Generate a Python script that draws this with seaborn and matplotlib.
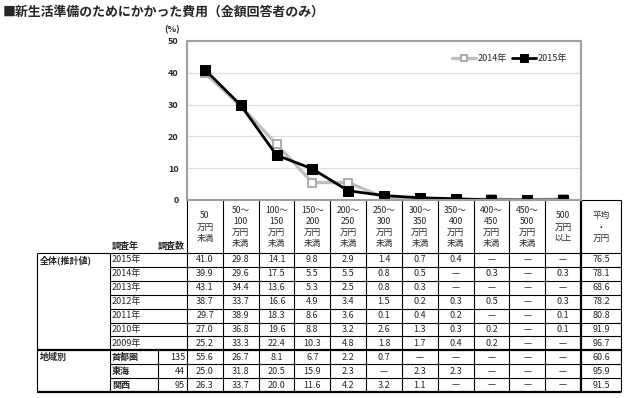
import matplotlib
matplotlib.use("Agg")
import matplotlib.pyplot as plt
import numpy as np
import pandas as pd
import seaborn as sns

# ---------------- data ----------------
title = "■新生活準備のためにかかった費用（金額回答者のみ）"
categories = ["50\n万円\n未満", "50～\n100\n万円\n未満", "100～\n150\n万円\n未満",
              "150～\n200\n万円\n未満", "200～\n250\n万円\n未満", "250～\n300\n万円\n未満",
              "300～\n350\n万円\n未満", "350～\n400\n万円\n未満", "400～\n450\n万円\n未満",
              "450～\n500\n万円\n未満", "500\n万円\n以上"]
avg_label = "平均\n・\n万円"
series_2015 = [41.0, 29.8, 14.1, 9.8, 2.9, 1.4, 0.7, 0.4, 0.0, 0.0, 0.0]
series_2014 = [39.9, 29.6, 17.5, 5.5, 5.5, 0.8, 0.5, 0.0, 0.3, 0.0, 0.3]
y_ticks = [0, 10, 20, 30, 40, 50]

years = ["2015年", "2014年", "2013年", "2012年", "2011年", "2010年", "2009年"]
row_2015 = ["41.0", "29.8", "14.1", "9.8", "2.9", "1.4", "0.7", "0.4", "—", "—", "—", "76.5"]
row_2014 = ["39.9", "29.6", "17.5", "5.5", "5.5", "0.8", "0.5", "—", "0.3", "—", "0.3", "78.1"]
row_2013 = ["43.1", "34.4", "13.6", "5.3", "2.5", "0.8", "0.3", "—", "—", "—", "—", "68.6"]
row_2012 = ["38.7", "33.7", "16.6", "4.9", "3.4", "1.5", "0.2", "0.3", "0.5", "—", "0.3", "78.2"]
row_2011 = ["29.7", "38.9", "18.3", "8.6", "3.6", "0.1", "0.4", "0.2", "—", "—", "0.1", "80.8"]
row_2010 = ["27.0", "36.8", "19.6", "8.8", "3.2", "2.6", "1.3", "0.3", "0.2", "—", "0.1", "91.9"]
row_2009 = ["25.2", "33.3", "22.4", "10.3", "4.8", "1.8", "1.7", "0.4", "0.2", "—", "—", "96.7"]
year_rows = [row_2015, row_2014, row_2013, row_2012, row_2011, row_2010, row_2009]

regions = ["首都圏", "東海", "関西"]
region_n = ["135", "44", "95"]
row_shutoken = ["55.6", "26.7", "8.1", "6.7", "2.2", "0.7", "—", "—", "—", "—", "—", "60.6"]
row_tokai = ["25.0", "31.8", "20.5", "15.9", "2.3", "—", "2.3", "2.3", "—", "—", "—", "95.9"]
row_kansai = ["26.3", "33.7", "20.0", "11.6", "4.2", "3.2", "1.1", "—", "—", "—", "—", "91.5"]
region_rows = [row_shutoken, row_tokai, row_kansai]

# ---------------- style ----------------
sns.set_theme(style="white")
plt.rcParams["font.family"] = ["Noto Sans CJK JP", "DejaVu Sans"]

W, H = 626, 398
fig = plt.figure(figsize=(W / 100, H / 100), dpi=100)

# layout in pixels
ax_l, ax_r, ax_t, ax_b = 187, 581, 41, 200
ncat = len(categories)
colw = (ax_r - ax_l) / ncat
tab_r = 621
col_edges = [ax_l + i * colw for i in range(ncat + 1)] + [tab_r]
col_centers = [(col_edges[i] + col_edges[i + 1]) / 2 for i in range(ncat + 1)]
row_top = 253
row_h = 13.9
nrows = len(years) + len(regions)
row_edges = [row_top + i * row_h for i in range(nrows + 1)]

# ---------------- chart ----------------
ax = fig.add_axes([ax_l / W, 1 - ax_b / H, (ax_r - ax_l) / W, (ax_b - ax_t) / H], zorder=2)
df = pd.DataFrame({"pos": np.arange(ncat), "y2014": series_2014, "y2015": series_2015})
sns.lineplot(data=df, x="pos", y="y2014", ax=ax, color="#BFBFBF", linewidth=2.4,
             marker="s", markersize=6, markerfacecolor="white", markeredgecolor="#A6A6A6",
             markeredgewidth=1.3, label="2014年")
sns.lineplot(data=df, x="pos", y="y2015", ax=ax, color="black", linewidth=2.0,
             marker="s", markersize=7, markerfacecolor="black", markeredgecolor="black",
             label="2015年")
ax.set_xlim(-0.5, ncat - 0.5)
ax.set_ylim(0, 50)
ax.set_yticks(y_ticks)
ax.set_xticks([])
ax.set_xlabel("")
ax.set_ylabel("")
ax.tick_params(axis="y", labelsize=6.5, length=0, pad=6)
for lab in ax.get_yticklabels():
    lab.set_fontweight("bold")
ax.yaxis.grid(True, color="#E0E0E0", linewidth=0.9)
ax.set_axisbelow(True)
for s in ax.spines.values():
    s.set_color("#A0A0A0")
    s.set_linewidth(1.5)
leg = ax.legend(loc="upper right", bbox_to_anchor=(0.985, 0.97), ncol=2, frameon=False,
                fontsize=6.5, handlelength=2.6, columnspacing=0.6, handletextpad=0.2,
                markerscale=0.8)
fig.text(172 / W, 1 - 30 / H, "(%)", fontsize=6.5, fontweight="bold", ha="center", va="center")
fig.text(3 / W, 1 - 12 / H, title, fontsize=9.3, fontweight="bold", ha="left", va="center")

# ---------------- table ----------------
tb = fig.add_axes([0, 0, 1, 1], zorder=1)
tb.set_xlim(0, W)
tb.set_ylim(H, 0)
tb.axis("off")
lc = "black"

def hline(y, x0, x1, lw=0.8):
    tb.plot([x0, x1], [y, y], color=lc, lw=lw, solid_capstyle="butt")

def vline(x, y0, y1, lw=0.8):
    tb.plot([x, x], [y0, y1], color=lc, lw=lw, solid_capstyle="butt")

bottom = row_edges[-1]
region_top = row_edges[len(years)]
# vertical lines
for i, x in enumerate(col_edges):
    vline(x, ax_b, bottom, lw=1.6 if i == ncat else 0.8)
vline(37, row_top, bottom)
vline(110, row_top, bottom)
vline(158, region_top, bottom)
# horizontal lines
hline(ax_b, ax_r, tab_r)
hline(row_top, 37, tab_r)
for i in range(1, nrows):
    if i == len(years):
        hline(row_edges[i], 37, tab_r, lw=1.6)
    else:
        hline(row_edges[i], 110, tab_r)
hline(bottom, 37, tab_r, lw=1.6)

fs = 6.5
# header texts
header_labels = categories + [avg_label]
for cx, lab in zip(col_centers, header_labels):
    tb.text(cx, 227, lab, ha="center", va="center", fontsize=6.2, linespacing=1.32)
tb.text(112, 246, "調査年", ha="left", va="center", fontsize=fs, fontweight="bold")
tb.text(185, 246, "調査数", ha="right", va="center", fontsize=fs, fontweight="bold")

# body
tb.text(40, row_edges[0] + row_h / 2, "全体(推計値)", ha="left", va="center", fontsize=fs, fontweight="bold")
tb.text(40, region_top + row_h / 2, "地域別", ha="left", va="center", fontsize=fs, fontweight="bold")
for r, (yr, vals) in enumerate(zip(years, year_rows)):
    yc = row_edges[r] + row_h / 2
    tb.text(112, yc, yr, ha="left", va="center", fontsize=fs)
    for cx, v in zip(col_centers, vals):
        tb.text(cx, yc, v, ha="center", va="center", fontsize=fs)
for k, (nm, n, vals) in enumerate(zip(regions, region_n, region_rows)):
    r = len(years) + k
    yc = row_edges[r] + row_h / 2
    tb.text(112, yc, nm, ha="left", va="center", fontsize=fs, fontweight="bold")
    tb.text(185, yc, n, ha="right", va="center", fontsize=fs)
    for cx, v in zip(col_centers, vals):
        tb.text(cx, yc, v, ha="center", va="center", fontsize=fs)

fig.savefig("out.png", dpi=100)
